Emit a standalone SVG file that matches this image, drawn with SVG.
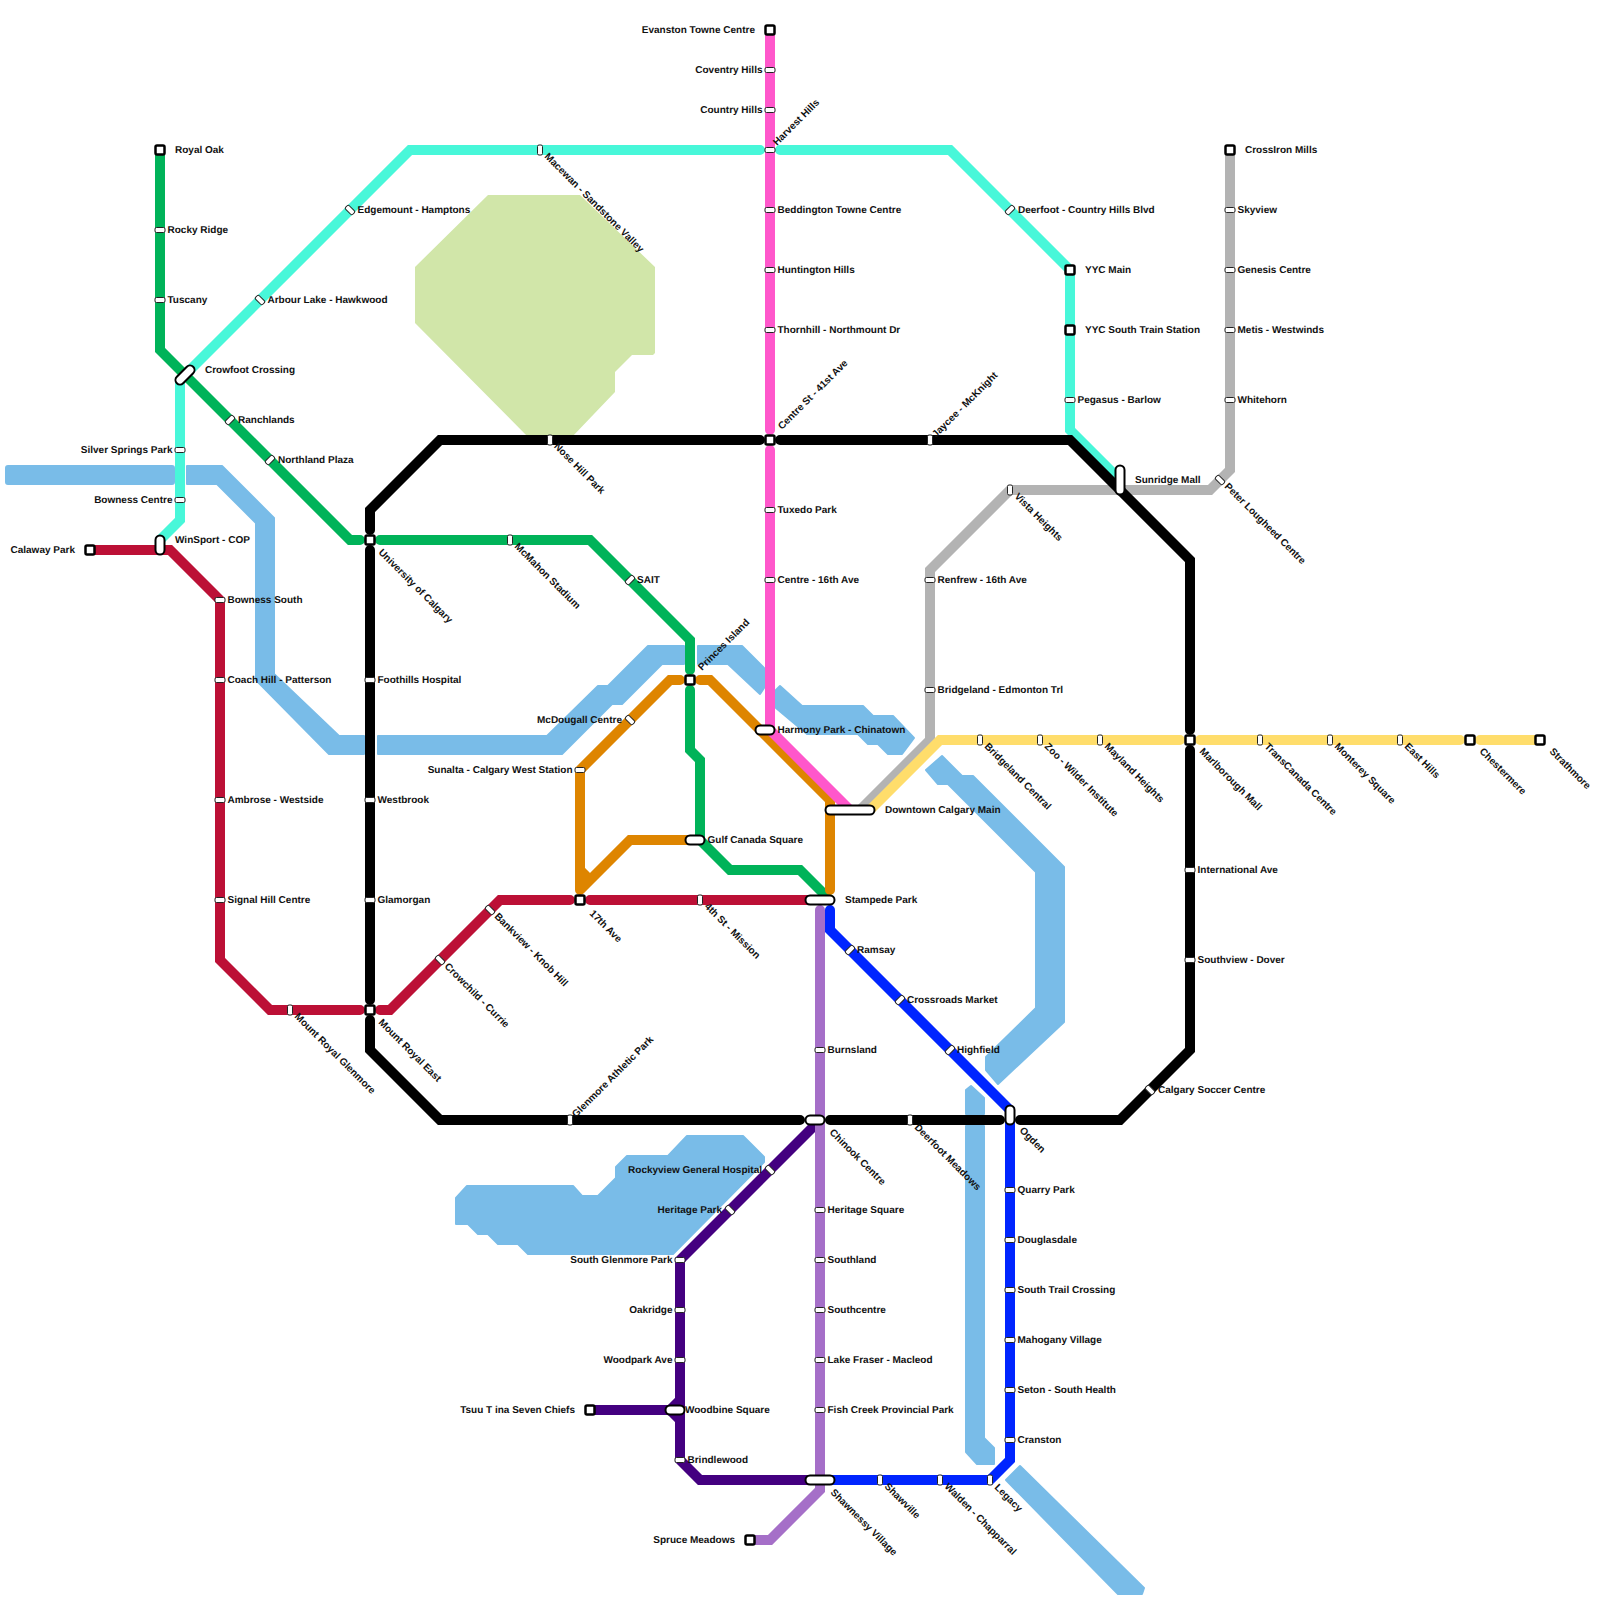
<svg xmlns="http://www.w3.org/2000/svg" width="1600" height="1600" viewBox="0 0 1600 1600">
<style>
text{font-family:"Liberation Sans",Arial,sans-serif;font-size:10px;font-weight:700;fill:#111;text-rendering:geometricPrecision}
.e{text-anchor:end}
.w{fill:#79bce8;stroke:#79bce8;stroke-width:2;stroke-linejoin:round}
.k{fill:none;stroke-width:10;stroke-linecap:round;stroke-linejoin:miter;stroke-miterlimit:8}
.s{fill:#fff;stroke:#222;stroke-width:1}
.q{fill:#fff;stroke:#000;stroke-width:2.5}
.po{stroke:#000;stroke-width:11;stroke-linecap:round}
.pi{stroke:#fff;stroke-width:7;stroke-linecap:round}
</style>
<rect width="1600" height="1600" fill="#fff"/>
<g id="park"><polygon points="488,195 580,195 655,267 655,353 653,355 632,355 615,372 615,392 572,437 528,437 415,323 415,267" fill="#d1e6a9"/></g>
<g id="water">
<rect class="w" x="6" y="466" width="168" height="18" rx="2"/>
<polygon class="w" points="187,466 222,466 274,518 274,674 339,736 364,736 364,754 329,754 256,680 256,523 217,484 187,484"/>
<polygon class="w" points="378,736 547,736 598,686 608,686 648,646 684,646 684,664 662,664 622,704 612,704 562,754 378,754"/>
<polygon class="w" points="698,646 742,646 764,668 764,688 760,694 728,664 698,664"/>
<polygon class="w" points="780,686 802,706 863,706 873,716 893,716 914,738 902,754 888,754 878,744 868,744 858,734 807,734 776,708 776,690"/>
<polygon class="w" points="942,756 962,776 973,776 1064,867 1064,1022 998,1084 986,1070 986,1057 1036,1008 1036,872 948,784 938,784 926,770"/>
<polygon class="w" points="971,1086 984,1098 984,1114 966,1114 966,1090"/>
<polygon class="w" points="966,1126 984,1126 984,1438 994,1448 994,1464 977,1464 966,1452"/>
<polygon class="w" points="1020,1466 1144,1588 1142,1594 1118,1594 1006,1480"/>
<polygon class="w" points="467,1186 573,1186 582,1196 598,1196 616,1178 616,1167 627,1156 668,1156 687,1136 743,1136 764,1157 764,1162 673,1254 528,1254 518,1244 498,1244 488,1234 478,1234 468,1224 456,1224 456,1198"/>
</g>
<g id="connectors">
<path class="k" stroke="#48f7d9" d="M160,540L180,520L180,380L190,370L410,150L760,150M780,150L950,150L1070,270L1070,430L1120,480"/>
<path class="k" stroke="#b3b3b3" d="M1230,150L1230,470L1210,490L1010,490L930,570L930,740L860,810"/>
<path class="k" stroke="#ffdd6b" d="M870,810L940,740L1180,740M1200,740L1460,740M1480,740L1540,740"/>
<path class="k" stroke="#000" d="M370,530L370,510L440,440L760,440M780,440L1070,440L1190,560L1190,730M1190,750L1190,1050L1120,1120L1020,1120M1000,1120L830,1120M800,1120L440,1120L370,1050L370,1020M370,1000L370,550"/>
<path class="k" stroke="#00b359" d="M160,150L160,350L350,540L360,540M380,540L590,540L690,640L690,670M690,690L690,750L700,760L700,840L730,870L800,870L830,900"/>
<path class="k" stroke="#de8500" d="M580,890L580,770L670,680L680,680M700,680L710,680L830,800L830,890M580,890L630,840L695,840M580,870L590,880"/>
<path class="k" stroke="#ff57cb" d="M770,30L770,430M770,450L770,730L850,810"/>
<path class="k" stroke="#bc1036" d="M90,550L170,550L220,600L220,960L270,1010L360,1010M380,1010L390,1010L500,900L570,900M590,900L815,900"/>
<path class="k" stroke="#440080" d="M820,1120L680,1260L680,1460L700,1480L810,1480M590,1410L670,1410L680,1400M670,1410L680,1420"/>
<path class="k" stroke="#a56fc8" d="M820,910L820,1490L770,1540L750,1540"/>
<path class="k" stroke="#0025ff" d="M830,910L830,930L1010,1110L1010,1460L990,1480L830,1480"/>
</g>
<g id="n1"><rect class="q" x="155.500" y="145.500" width="9" height="9" rx="1.500"/><text x="175" y="153">Royal Oak</text></g>
<g id="n2"><rect class="s" x="155" y="227.500" width="10" height="5" rx="1.500"/><text x="167.500" y="233">Rocky Ridge</text></g>
<g id="n3"><rect class="s" x="155" y="297.500" width="10" height="5" rx="1.500"/><text x="167.500" y="303">Tuscany</text></g>
<g id="n4"><line class="po" x1="180" y1="380" x2="190" y2="370"/><line class="pi" x1="180" y1="380" x2="190" y2="370"/><text x="205" y="373">Crowfoot Crossing</text></g>
<g id="n5"><rect class="s" x="225" y="417.500" width="10" height="5" rx="1.500" transform="rotate(-45 230 420)"/><text x="238" y="423">Ranchlands</text></g>
<g id="n6"><rect class="s" x="265" y="457.500" width="10" height="5" rx="1.500" transform="rotate(-45 270 460)"/><text x="278" y="463">Northland Plaza</text></g>
<g id="n7"><rect class="s" x="175" y="447.500" width="10" height="5" rx="1.500"/><text class="e" x="172.500" y="453">Silver Springs Park</text></g>
<g id="n8"><rect class="s" x="175" y="497.500" width="10" height="5" rx="1.500"/><text class="e" x="172.500" y="503">Bowness Centre</text></g>
<g id="n9"><line class="po" x1="160" y1="540" x2="160" y2="550"/><line class="pi" x1="160" y1="540" x2="160" y2="550"/><text x="175" y="543">WinSport - COP</text></g>
<g id="n10"><rect class="q" x="85.500" y="545.500" width="9" height="9" rx="1.500"/><text class="e" x="75" y="553">Calaway Park</text></g>
<g id="n11"><rect class="s" x="255" y="297.500" width="10" height="5" rx="1.500" transform="rotate(45 260 300)"/><text x="267.500" y="303">Arbour Lake - Hawkwood</text></g>
<g id="n12"><rect class="s" x="345" y="207.500" width="10" height="5" rx="1.500" transform="rotate(45 350 210)"/><text x="357.500" y="213">Edgemount - Hamptons</text></g>
<g id="n13"><rect class="s" x="537.500" y="145" width="5" height="10" rx="1.500"/><text transform="translate(544 157) rotate(45)">Macewan - Sandstone Valley</text></g>
<g id="n14"><rect class="s" x="765" y="147.500" width="10" height="5" rx="1.500"/><text transform="translate(777 146) rotate(-45)">Harvest Hills</text></g>
<g id="n15"><rect class="s" x="1005" y="207.500" width="10" height="5" rx="1.500" transform="rotate(-45 1010 210)"/><text x="1018" y="213">Deerfoot - Country Hills Blvd</text></g>
<g id="n16"><rect class="q" x="1065.500" y="265.500" width="9" height="9" rx="1.500"/><text x="1085" y="273">YYC Main</text></g>
<g id="n17"><rect class="q" x="1065.500" y="325.500" width="9" height="9" rx="1.500"/><text x="1085" y="333">YYC South Train Station</text></g>
<g id="n18"><rect class="s" x="1065" y="397.500" width="10" height="5" rx="1.500"/><text x="1077.500" y="403">Pegasus - Barlow</text></g>
<g id="n19"><line class="po" x1="1120" y1="470" x2="1120" y2="490"/><line class="pi" x1="1120" y1="470" x2="1120" y2="490"/><text x="1135" y="483">Sunridge Mall</text></g>
<g id="n20"><rect class="q" x="765.500" y="25.500" width="9" height="9" rx="1.500"/><text class="e" x="755" y="33">Evanston Towne Centre</text></g>
<g id="n21"><rect class="s" x="765" y="67.500" width="10" height="5" rx="1.500"/><text class="e" x="762.500" y="73">Coventry Hills</text></g>
<g id="n22"><rect class="s" x="765" y="107.500" width="10" height="5" rx="1.500"/><text class="e" x="762.500" y="113">Country Hills</text></g>
<g id="n23"><rect class="s" x="765" y="207.500" width="10" height="5" rx="1.500"/><text x="777.500" y="213">Beddington Towne Centre</text></g>
<g id="n24"><rect class="s" x="765" y="267.500" width="10" height="5" rx="1.500"/><text x="777.500" y="273">Huntington Hills</text></g>
<g id="n25"><rect class="s" x="765" y="327.500" width="10" height="5" rx="1.500"/><text x="777.500" y="333">Thornhill - Northmount Dr</text></g>
<g id="n26"><rect class="q" x="765.500" y="435.500" width="9" height="9" rx="1.500"/><text transform="translate(782 430) rotate(-45)">Centre St - 41st Ave</text></g>
<g id="n27"><rect class="s" x="765" y="507.500" width="10" height="5" rx="1.500"/><text x="777.500" y="513">Tuxedo Park</text></g>
<g id="n28"><rect class="s" x="765" y="577.500" width="10" height="5" rx="1.500"/><text x="777.500" y="583">Centre - 16th Ave</text></g>
<g id="n29"><line class="po" x1="760" y1="730" x2="770" y2="730"/><line class="pi" x1="760" y1="730" x2="770" y2="730"/><text x="777.500" y="733">Harmony Park - Chinatown</text></g>
<g id="n30"><line class="po" x1="830" y1="810" x2="870" y2="810"/><line class="pi" x1="830" y1="810" x2="870" y2="810"/><text x="885" y="813">Downtown Calgary Main</text></g>
<g id="n31"><rect class="q" x="1225.500" y="145.500" width="9" height="9" rx="1.500"/><text x="1245" y="153">CrossIron Mills</text></g>
<g id="n32"><rect class="s" x="1225" y="207.500" width="10" height="5" rx="1.500"/><text x="1237.500" y="213">Skyview</text></g>
<g id="n33"><rect class="s" x="1225" y="267.500" width="10" height="5" rx="1.500"/><text x="1237.500" y="273">Genesis Centre</text></g>
<g id="n34"><rect class="s" x="1225" y="327.500" width="10" height="5" rx="1.500"/><text x="1237.500" y="333">Metis - Westwinds</text></g>
<g id="n35"><rect class="s" x="1225" y="397.500" width="10" height="5" rx="1.500"/><text x="1237.500" y="403">Whitehorn</text></g>
<g id="n36"><rect class="s" x="1215" y="477.500" width="10" height="5" rx="1.500" transform="rotate(45 1220 480)"/><text transform="translate(1224 487) rotate(45)">Peter Lougheed Centre</text></g>
<g id="n37"><rect class="s" x="1007.500" y="485" width="5" height="10" rx="1.500"/><text transform="translate(1014 497) rotate(45)">Vista Heights</text></g>
<g id="n38"><rect class="s" x="925" y="577.500" width="10" height="5" rx="1.500"/><text x="937.500" y="583">Renfrew - 16th Ave</text></g>
<g id="n39"><rect class="s" x="925" y="687.500" width="10" height="5" rx="1.500"/><text x="937.500" y="693">Bridgeland - Edmonton Trl</text></g>
<g id="n40"><rect class="s" x="977.500" y="735" width="5" height="10" rx="1.500"/><text transform="translate(984 747) rotate(45)">Bridgeland Central</text></g>
<g id="n41"><rect class="s" x="1037.500" y="735" width="5" height="10" rx="1.500"/><text transform="translate(1044 747) rotate(45)">Zoo - Wilder Institute</text></g>
<g id="n42"><rect class="s" x="1097.500" y="735" width="5" height="10" rx="1.500"/><text transform="translate(1104 747) rotate(45)">Mayland Heights</text></g>
<g id="n43"><rect class="q" x="1185.500" y="735.500" width="9" height="9" rx="1.500"/><text transform="translate(1199 752) rotate(45)">Marlborough Mall</text></g>
<g id="n44"><rect class="s" x="1257.500" y="735" width="5" height="10" rx="1.500"/><text transform="translate(1264 747) rotate(45)">TransCanada Centre</text></g>
<g id="n45"><rect class="s" x="1327.500" y="735" width="5" height="10" rx="1.500"/><text transform="translate(1334 747) rotate(45)">Monterey Square</text></g>
<g id="n46"><rect class="s" x="1397.500" y="735" width="5" height="10" rx="1.500"/><text transform="translate(1404 747) rotate(45)">East Hills</text></g>
<g id="n47"><rect class="q" x="1465.500" y="735.500" width="9" height="9" rx="1.500"/><text transform="translate(1479 752) rotate(45)">Chestermere</text></g>
<g id="n48"><rect class="q" x="1535.500" y="735.500" width="9" height="9" rx="1.500"/><text transform="translate(1549 752) rotate(45)">Strathmore</text></g>
<g id="n49"><rect class="q" x="365.500" y="535.500" width="9" height="9" rx="1.500"/><text transform="translate(378 553) rotate(45)">University of Calgary</text></g>
<g id="n50"><rect class="s" x="507.500" y="535" width="5" height="10" rx="1.500"/><text transform="translate(514 547) rotate(45)">McMahon Stadium</text></g>
<g id="n51"><rect class="s" x="625" y="577.500" width="10" height="5" rx="1.500" transform="rotate(-45 630 580)"/><text x="637" y="583">SAIT</text></g>
<g id="n52"><rect class="q" x="685.500" y="675.500" width="9" height="9" rx="1.500"/><text transform="translate(702 671) rotate(-45)">Princes Island</text></g>
<g id="n53"><line class="po" x1="690" y1="840" x2="700" y2="840"/><line class="pi" x1="690" y1="840" x2="700" y2="840"/><text x="707.500" y="843">Gulf Canada Square</text></g>
<g id="n54"><rect class="s" x="625" y="717.500" width="10" height="5" rx="1.500" transform="rotate(45 630 720)"/><text class="e" x="622" y="723">McDougall Centre</text></g>
<g id="n55"><rect class="s" x="575" y="767.500" width="10" height="5" rx="1.500"/><text class="e" x="572.500" y="773">Sunalta - Calgary West Station</text></g>
<g id="n56"><rect class="q" x="575.500" y="895.500" width="9" height="9" rx="1.500"/><text transform="translate(589 914) rotate(45)">17th Ave</text></g>
<g id="n57"><rect class="s" x="697.500" y="895" width="5" height="10" rx="1.500"/><text transform="translate(704 907) rotate(45)">4th St - Mission</text></g>
<g id="n58"><line class="po" x1="810" y1="900" x2="830" y2="900"/><line class="pi" x1="810" y1="900" x2="830" y2="900"/><text x="845" y="903">Stampede Park</text></g>
<g id="n59"><rect class="s" x="215" y="597.500" width="10" height="5" rx="1.500"/><text x="227.500" y="603">Bowness South</text></g>
<g id="n60"><rect class="s" x="215" y="677.500" width="10" height="5" rx="1.500"/><text x="227.500" y="683">Coach Hill - Patterson</text></g>
<g id="n61"><rect class="s" x="215" y="797.500" width="10" height="5" rx="1.500"/><text x="227.500" y="803">Ambrose - Westside</text></g>
<g id="n62"><rect class="s" x="215" y="897.500" width="10" height="5" rx="1.500"/><text x="227.500" y="903">Signal Hill Centre</text></g>
<g id="n63"><rect class="s" x="287.500" y="1005" width="5" height="10" rx="1.500"/><text transform="translate(294 1017) rotate(45)">Mount Royal Glenmore</text></g>
<g id="n64"><rect class="q" x="365.500" y="1005.500" width="9" height="9" rx="1.500"/><text transform="translate(378 1023) rotate(45)">Mount Royal East</text></g>
<g id="n65"><rect class="s" x="435" y="957.500" width="10" height="5" rx="1.500" transform="rotate(45 440 960)"/><text transform="translate(444 967) rotate(45)">Crowchild - Currie</text></g>
<g id="n66"><rect class="s" x="485" y="907.500" width="10" height="5" rx="1.500" transform="rotate(45 490 910)"/><text transform="translate(494 917) rotate(45)">Bankview - Knob Hill</text></g>
<g id="n67"><rect class="s" x="547.500" y="435" width="5" height="10" rx="1.500"/><text transform="translate(553.500 447) rotate(45)">Nose Hill Park</text></g>
<g id="n68"><rect class="s" x="927.500" y="435" width="5" height="10" rx="1.500"/><text transform="translate(936 438) rotate(-45)">Jaycee - McKnight</text></g>
<g id="n69"><rect class="s" x="365" y="677.500" width="10" height="5" rx="1.500"/><text x="377.500" y="683">Foothills Hospital</text></g>
<g id="n70"><rect class="s" x="365" y="797.500" width="10" height="5" rx="1.500"/><text x="377.500" y="803">Westbrook</text></g>
<g id="n71"><rect class="s" x="365" y="897.500" width="10" height="5" rx="1.500"/><text x="377.500" y="903">Glamorgan</text></g>
<g id="n72"><rect class="s" x="1185" y="867.500" width="10" height="5" rx="1.500"/><text x="1197.500" y="873">International Ave</text></g>
<g id="n73"><rect class="s" x="1185" y="957.500" width="10" height="5" rx="1.500"/><text x="1197.500" y="963">Southview - Dover</text></g>
<g id="n74"><rect class="s" x="1145" y="1087.500" width="10" height="5" rx="1.500" transform="rotate(45 1150 1090)"/><text x="1158" y="1093">Calgary Soccer Centre</text></g>
<g id="n75"><line class="po" x1="1010" y1="1110" x2="1010" y2="1120"/><line class="pi" x1="1010" y1="1110" x2="1010" y2="1120"/><text transform="translate(1019 1131) rotate(45)">Ogden</text></g>
<g id="n76"><rect class="s" x="907.500" y="1115" width="5" height="10" rx="1.500"/><text transform="translate(914 1128) rotate(45)">Deerfoot Meadows</text></g>
<g id="n77"><line class="po" x1="810" y1="1120" x2="820" y2="1120"/><line class="pi" x1="810" y1="1120" x2="820" y2="1120"/><text transform="translate(829 1133) rotate(45)">Chinook Centre</text></g>
<g id="n78"><rect class="s" x="567.500" y="1115" width="5" height="10" rx="1.500"/><text transform="translate(576 1118) rotate(-45)">Glenmore Athletic Park</text></g>
<g id="n79"><rect class="s" x="845" y="947.500" width="10" height="5" rx="1.500" transform="rotate(-45 850 950)"/><text x="857" y="953">Ramsay</text></g>
<g id="n80"><rect class="s" x="895" y="997.500" width="10" height="5" rx="1.500" transform="rotate(-45 900 1000)"/><text x="907" y="1003">Crossroads Market</text></g>
<g id="n81"><rect class="s" x="945" y="1047.500" width="10" height="5" rx="1.500" transform="rotate(-45 950 1050)"/><text x="957" y="1053">Highfield</text></g>
<g id="n82"><rect class="s" x="815" y="1047.500" width="10" height="5" rx="1.500"/><text x="827.500" y="1053">Burnsland</text></g>
<g id="n83"><rect class="s" x="815" y="1207.500" width="10" height="5" rx="1.500"/><text x="827.500" y="1213">Heritage Square</text></g>
<g id="n84"><rect class="s" x="815" y="1257.500" width="10" height="5" rx="1.500"/><text x="827.500" y="1263">Southland</text></g>
<g id="n85"><rect class="s" x="815" y="1307.500" width="10" height="5" rx="1.500"/><text x="827.500" y="1313">Southcentre</text></g>
<g id="n86"><rect class="s" x="815" y="1357.500" width="10" height="5" rx="1.500"/><text x="827.500" y="1363">Lake Fraser - Macleod</text></g>
<g id="n87"><rect class="s" x="815" y="1407.500" width="10" height="5" rx="1.500"/><text x="827.500" y="1413">Fish Creek Provincial Park</text></g>
<g id="n88"><rect class="s" x="1005" y="1187.500" width="10" height="5" rx="1.500"/><text x="1017.500" y="1193">Quarry Park</text></g>
<g id="n89"><rect class="s" x="1005" y="1237.500" width="10" height="5" rx="1.500"/><text x="1017.500" y="1243">Douglasdale</text></g>
<g id="n90"><rect class="s" x="1005" y="1287.500" width="10" height="5" rx="1.500"/><text x="1017.500" y="1293">South Trail Crossing</text></g>
<g id="n91"><rect class="s" x="1005" y="1337.500" width="10" height="5" rx="1.500"/><text x="1017.500" y="1343">Mahogany Village</text></g>
<g id="n92"><rect class="s" x="1005" y="1387.500" width="10" height="5" rx="1.500"/><text x="1017.500" y="1393">Seton - South Health</text></g>
<g id="n93"><rect class="s" x="1005" y="1437.500" width="10" height="5" rx="1.500"/><text x="1017.500" y="1443">Cranston</text></g>
<g id="n94"><rect class="s" x="987.500" y="1475" width="5" height="10" rx="1.500"/><text transform="translate(994 1488) rotate(45)">Legacy</text></g>
<g id="n95"><rect class="s" x="937.500" y="1475" width="5" height="10" rx="1.500"/><text transform="translate(944 1487) rotate(45)">Walden - Chapparral</text></g>
<g id="n96"><rect class="s" x="877.500" y="1475" width="5" height="10" rx="1.500"/><text transform="translate(884 1487) rotate(45)">Shawville</text></g>
<g id="n97"><line class="po" x1="810" y1="1480" x2="830" y2="1480"/><line class="pi" x1="810" y1="1480" x2="830" y2="1480"/><text transform="translate(830 1493) rotate(45)">Shawnessy Village</text></g>
<g id="n98"><rect class="q" x="745.500" y="1535.500" width="9" height="9" rx="1.500"/><text class="e" x="735" y="1543">Spruce Meadows</text></g>
<g id="n99"><rect class="s" x="765" y="1167.500" width="10" height="5" rx="1.500" transform="rotate(45 770 1170)"/><text class="e" x="762" y="1173">Rockyview General Hospital</text></g>
<g id="n100"><rect class="s" x="725" y="1207.500" width="10" height="5" rx="1.500" transform="rotate(45 730 1210)"/><text class="e" x="722" y="1213">Heritage Park</text></g>
<g id="n101"><rect class="s" x="675" y="1257.500" width="10" height="5" rx="1.500"/><text class="e" x="672.500" y="1263">South Glenmore Park</text></g>
<g id="n102"><rect class="s" x="675" y="1307.500" width="10" height="5" rx="1.500"/><text class="e" x="672.500" y="1313">Oakridge</text></g>
<g id="n103"><rect class="s" x="675" y="1357.500" width="10" height="5" rx="1.500"/><text class="e" x="672.500" y="1363">Woodpark Ave</text></g>
<g id="n104"><line class="po" x1="670" y1="1410" x2="680" y2="1410"/><line class="pi" x1="670" y1="1410" x2="680" y2="1410"/><text x="685" y="1413">Woodbine Square</text></g>
<g id="n105"><rect class="s" x="675" y="1457.500" width="10" height="5" rx="1.500"/><text x="687.500" y="1463">Brindlewood</text></g>
<g id="n106"><rect class="q" x="585.500" y="1405.500" width="9" height="9" rx="1.500"/><text class="e" x="575" y="1413">Tsuu T ina Seven Chiefs</text></g>
</svg>
